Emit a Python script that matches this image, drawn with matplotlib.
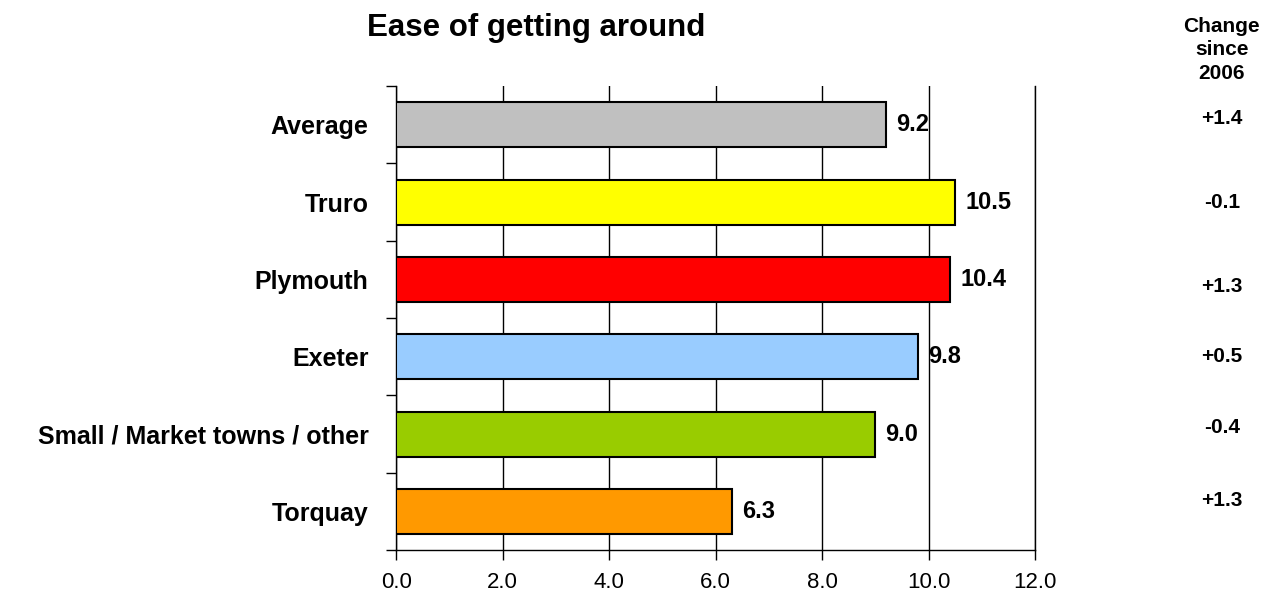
import matplotlib
matplotlib.use("Agg")
import matplotlib.pyplot as plt
import numpy as np

plt.rcParams['font.family'] = ['Liberation Sans', 'DejaVu Sans']

# survey scores
areas = ['Average', 'Truro', 'Plymouth', 'Exeter',
         'Small / Market towns / other', 'Torquay']
scores = [9.2, 10.5, 10.4, 9.8, 9.0, 6.3]
changes = ['+1.4', '-0.1', '+1.3', '+0.5', '-0.4', '+1.3']
colours = ['#C0C0C0', '#FFFF00', '#FF0000', '#99CCFF', '#99CC00', '#FF9900']
xticks = [0, 2, 4, 6, 8, 10, 12]

# vertical nudges (in category units) for the change column
change_nudge = [-0.08, 0.0, 0.09, 0.0, -0.08, -0.14]

fig = plt.figure(figsize=(12.74, 5.96), dpi=100)
ax = fig.add_axes([0.311, 0.077, 0.5015, 0.7785])

y = np.arange(len(areas))
ax.barh(y, scores, height=0.58, color=colours, edgecolor='black',
        linewidth=1.5, zorder=3)

ax.set_xlim(0, 12)
ax.set_ylim(len(areas) - 0.5, -0.5)

# category labels without tick marks, separator ticks between categories
ax.set_yticks(y)
ax.set_yticklabels(areas, fontsize=18, fontweight='bold')
ax.tick_params(axis='y', length=0, pad=20)
ax.set_yticks(np.arange(len(areas) + 1) - 0.5, minor=True)
ax.tick_params(axis='y', which='minor', length=7, width=1, color='black')

ax.set_xticks(xticks)
ax.set_xticklabels([f'{t:.1f}' for t in xticks], fontsize=16)
ax.tick_params(axis='x', length=7, width=1, pad=9)

ax.grid(axis='x', color='black', linewidth=1, zorder=0)
ax.spines['top'].set_visible(False)
for s in ('left', 'bottom', 'right'):
    ax.spines[s].set_linewidth(1)

for yi, v in zip(y, scores):
    ax.text(v + 0.19, yi, f'{v:.1f}', va='center', ha='left',
            fontsize=17, fontweight='bold', zorder=4)

# change-since-2006 column
trans = matplotlib.transforms.blended_transform_factory(fig.transFigure, ax.transData)
for yi, c, dn in zip(y, changes, change_nudge):
    ax.text(0.959, yi + dn, c, transform=trans, ha='center', va='center',
            fontsize=15, fontweight='bold')
fig.text(0.959, 0.972, 'Change\nsince\n2006', ha='center', va='top',
         fontsize=15, fontweight='bold', linespacing=1.3)

fig.text(0.4207, 0.9396, 'Ease of getting around', ha='center', va='baseline',
         fontsize=22.5, fontweight='bold')

fig.savefig('out.png', dpi=100)
